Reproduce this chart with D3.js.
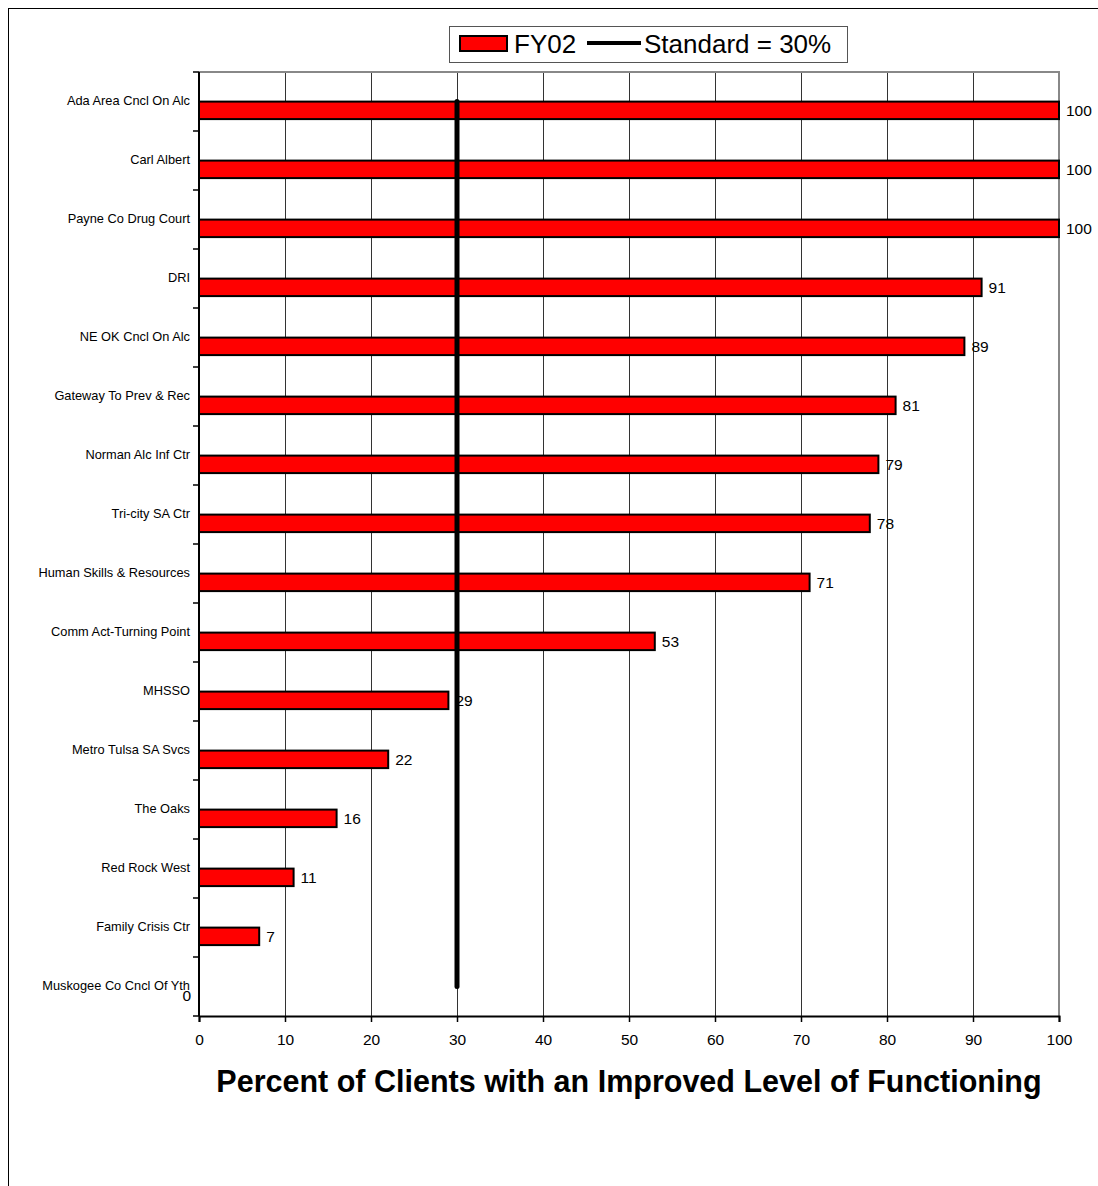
<!DOCTYPE html>
<html>
<head>
<meta charset="utf-8">
<script src="https://cdn.jsdelivr.net/npm/d3@7"></script>
<style>
  body { margin: 0; background: #fff; }
  svg { display: block; font-family: "Liberation Sans", Arial, sans-serif; }
</style>
</head>
<body>
<svg id="chart" width="1098" height="1186"></svg>
<script>
// Providers, ordered top to bottom
const categories = [
  "Ada Area Cncl On Alc", "Carl Albert", "Payne Co Drug Court", "DRI",
  "NE OK Cncl On Alc", "Gateway To Prev & Rec", "Norman Alc Inf Ctr",
  "Tri-city SA Ctr", "Human Skills & Resources", "Comm Act-Turning Point",
  "MHSSO", "Metro Tulsa SA Svcs", "The Oaks", "Red Rock West",
  "Family Crisis Ctr", "Muskogee Co Cncl Of Yth"
];
const fy02 = [100, 100, 100, 91, 89, 81, 79, 78, 71, 53, 29, 22, 16, 11, 7, 0];
const standard = 30;
const xTicks = [0, 10, 20, 30, 40, 50, 60, 70, 80, 90, 100];
const seriesNames = ["FY02", "Standard = 30%"];
const axisTitle = "Percent of Clients with an Improved Level of Functioning";

const svg = d3.select("#chart");

// chart area border (top and left edges show)
svg.append("rect").attr("x", 8.5).attr("y", 8.5).attr("width", 1200).attr("height", 1300)
  .attr("fill", "none").attr("stroke", "#000").attr("stroke-width", 1);

const plot = { left: 199, right: 1059, top: 72, bottom: 1016 };

const x = d3.scaleLinear().domain([0, 100]).range([plot.left, plot.right]);
const y = d3.scaleBand().domain(categories).range([plot.top, plot.bottom]).padding(0);
const bw = y.bandwidth();

// gridlines
svg.append("g").selectAll("line").data(xTicks.slice(1, -1)).join("line")
  .attr("x1", d => x(d)).attr("x2", d => x(d))
  .attr("y1", plot.top).attr("y2", plot.bottom)
  .attr("stroke", "#333").attr("stroke-width", 1)
  .attr("shape-rendering", "crispEdges");

// plot area frame (top/right gray)
svg.append("path")
  .attr("d", `M${plot.left},${plot.top}H${plot.right}V${plot.bottom}`)
  .attr("fill", "none").attr("stroke", "#888").attr("stroke-width", 2);

// bars sit in the lower part of each band
const barH = 17.5;
const barOff = 0.65; // bar centre as a fraction of the band
const rows = categories.map((c, i) => ({ cat: c, val: fy02[i] }));

svg.append("g").selectAll("rect").data(rows.filter(r => r.val > 0)).join("rect")
  .attr("x", x(0))
  .attr("y", r => y(r.cat) + bw * barOff - barH / 2)
  .attr("width", r => x(r.val) - x(0))
  .attr("height", barH)
  .attr("fill", "#ff0000").attr("stroke", "#000").attr("stroke-width", 2);

// value labels
svg.append("g").selectAll("text").data(rows).join("text")
  .attr("x", r => r.val > 0 ? x(r.val) + 7 : x(0) - 8)
  .attr("y", r => y(r.cat) + bw * barOff)
  .attr("dy", "0.35em")
  .attr("text-anchor", r => r.val > 0 ? "start" : "end")
  .attr("font-size", 15.5)
  .text(r => r.val);

// standard line
const stdLine = d3.line().x(() => x(standard)).y(d => y(d) + bw / 2);
svg.append("path").datum(categories)
  .attr("d", stdLine)
  .attr("fill", "none").attr("stroke", "#000").attr("stroke-width", 5)
  .attr("stroke-linecap", "round");

// y axis
const yAxis = svg.append("g").attr("transform", `translate(${plot.left},0)`);
yAxis.append("line").attr("x1", 0).attr("x2", 0).attr("y1", plot.top).attr("y2", plot.bottom)
  .attr("stroke", "#000").attr("stroke-width", 2);
yAxis.selectAll("line.tick").data(d3.range(categories.length + 1)).join("line")
  .attr("class", "tick")
  .attr("x1", -6).attr("x2", 0)
  .attr("y1", i => plot.top + i * bw).attr("y2", i => plot.top + i * bw)
  .attr("stroke", "#000").attr("stroke-width", 1.5);
yAxis.selectAll("text").data(categories).join("text")
  .attr("x", -9)
  .attr("y", d => y(d) + bw / 2)
  .attr("dy", "0.3em")
  .attr("text-anchor", "end")
  .attr("font-size", 12.8)
  .text(d => d);

// x axis
const xAxis = d3.axisBottom(x).tickValues(xTicks).tickSize(6).tickPadding(12);
const gx = svg.append("g").attr("transform", `translate(0,${plot.bottom})`).call(xAxis);
gx.select(".domain").attr("stroke", "#000").attr("stroke-width", 2);
gx.selectAll(".tick line").attr("stroke", "#000").attr("stroke-width", 1.5);
gx.selectAll(".tick text").attr("font-size", 15.5).attr("fill", "#000")
  .attr("font-family", "Liberation Sans, Arial, sans-serif");

// axis title
svg.append("text")
  .attr("x", (plot.left + plot.right) / 2)
  .attr("y", 1092)
  .attr("text-anchor", "middle")
  .attr("font-size", 30.5).attr("font-weight", "bold")
  .text(axisTitle);

// legend
const lg = svg.append("g").attr("transform", "translate(449,26)");
lg.append("rect").attr("x", 0.5).attr("y", 0.5).attr("width", 398).attr("height", 36)
  .attr("fill", "#fff").attr("stroke", "#555").attr("stroke-width", 1);
lg.append("rect").attr("x", 11).attr("y", 10).attr("width", 47).attr("height", 15)
  .attr("fill", "#ff0000").attr("stroke", "#000").attr("stroke-width", 2);
lg.append("text").attr("x", 65).attr("y", 18).attr("dy", "0.36em")
  .attr("font-size", 26).text(seriesNames[0]);
lg.append("line").attr("x1", 138).attr("x2", 192).attr("y1", 17).attr("y2", 17)
  .attr("stroke", "#000").attr("stroke-width", 4);
lg.append("text").attr("x", 195).attr("y", 18).attr("dy", "0.36em")
  .attr("font-size", 26).text(seriesNames[1]);
</script>
</body>
</html>
